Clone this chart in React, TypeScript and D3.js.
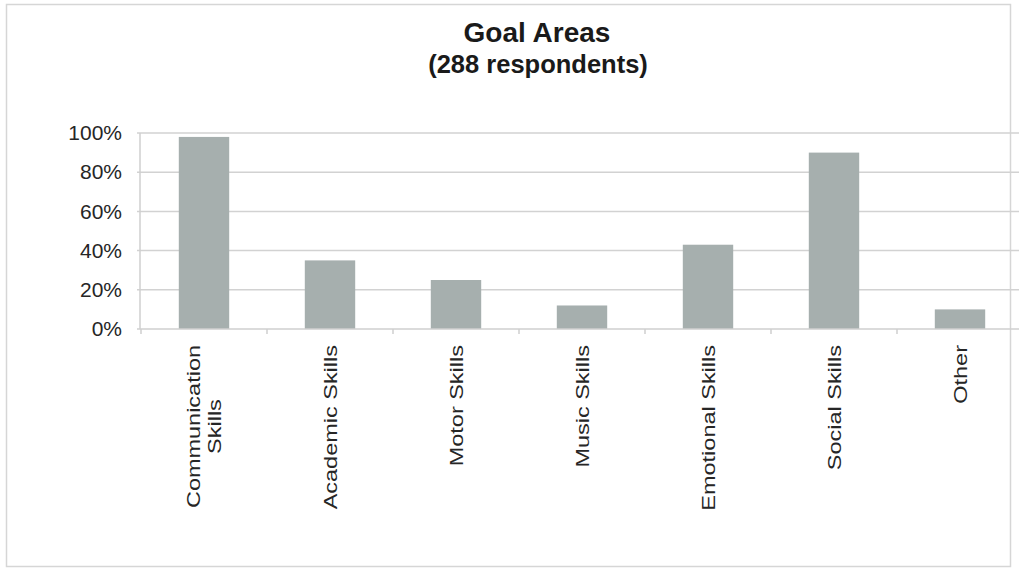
import React, { useEffect, useRef } from 'react';
import * as d3 from 'd3';

const categories = [
  'Communication Skills',
  'Academic Skills',
  'Motor Skills',
  'Music Skills',
  'Emotional Skills',
  'Social Skills',
  'Other',
];
const labelLines = [
  ['Communication', 'Skills'],
  ['Academic Skills'],
  ['Motor Skills'],
  ['Music Skills'],
  ['Emotional Skills'],
  ['Social Skills'],
  ['Other'],
];
const percentages = [98, 35, 25, 12, 43, 90, 10];
const yTicks = [0, 20, 40, 60, 80, 100];
const titleText = 'Goal Areas';
const subtitleText = '(288 respondents)';

const W = 1019;
const H = 571;
const FONT = '"Liberation Sans", Arial, Helvetica, sans-serif';

export default function App() {
  const ref = useRef<SVGSVGElement>(null);

  useEffect(() => {
    const svg = d3.select(ref.current);
    svg.selectAll('*').remove();

    const left = 141;
    const right = 1023;
    const top = 133;
    const bottom = 329;

    // frame
    svg.append('rect')
      .attr('x', 6.5).attr('y', 4.5)
      .attr('width', 1004).attr('height', 562)
      .attr('fill', '#fff')
      .attr('stroke', '#d6d6d6')
      .attr('stroke-width', 1.5);

    const x = d3.scaleBand<string>()
      .domain(categories)
      .range([left, right])
      .paddingInner(0.6)
      .paddingOuter(0.3);
    const y = d3.scaleLinear().domain([0, 100]).range([bottom, top]);

    // gridlines
    svg.append('g').selectAll('line')
      .data(yTicks.filter((t) => t > 0))
      .join('line')
      .attr('x1', left - 4).attr('x2', W)
      .attr('y1', (d) => y(d)).attr('y2', (d) => y(d))
      .attr('stroke', '#d2d2d2').attr('stroke-width', 1.5);

    // y axis
    svg.append('line')
      .attr('x1', left - 1).attr('x2', left - 1)
      .attr('y1', y(100)).attr('y2', y(0))
      .attr('stroke', '#cfcfcf').attr('stroke-width', 1.5);

    // bars
    svg.append('g').selectAll('rect')
      .data(categories)
      .join('rect')
      .attr('x', (d) => x(d)!)
      .attr('width', x.bandwidth())
      .attr('y', (d, i) => y(percentages[i]))
      .attr('height', (d, i) => y(0) - y(percentages[i]))
      .attr('fill', '#a6afae');

    // x axis
    svg.append('line')
      .attr('x1', left - 4).attr('x2', W)
      .attr('y1', y(0)).attr('y2', y(0))
      .attr('stroke', '#cfcfcf').attr('stroke-width', 1.5);
    const step = x.step();
    svg.append('g').selectAll('line')
      .data(d3.range(categories.length + 1))
      .join('line')
      .attr('x1', (i) => left + i * step).attr('x2', (i) => left + i * step)
      .attr('y1', y(0)).attr('y2', y(0) + 5)
      .attr('stroke', '#cfcfcf').attr('stroke-width', 1.5);

    // y labels
    svg.append('g').selectAll('text')
      .data(yTicks)
      .join('text')
      .attr('x', 122)
      .attr('y', (d) => y(d))
      .attr('dy', '0.36em')
      .attr('text-anchor', 'end')
      .attr('font-family', FONT)
      .attr('font-size', 20)
      .attr('fill', '#262626')
      .attr('transform', (d) => `translate(122,${y(d)}) scale(1.05,1) translate(-122,${-y(d)})`)
      .text((d) => `${d}%`);

    // x labels
    const lineGap = 21;
    categories.forEach((c, i) => {
      const cx = x(c)! + x.bandwidth() / 2;
      const g = svg.append('g')
        .attr('transform', `translate(${cx},345) rotate(-90) scale(1.27,1)`);
      const lines = labelLines[i];
      const texts = lines.map((ln, j) =>
        g.append('text')
          .attr('y', (j - (lines.length - 1) / 2) * lineGap)
          .attr('dy', '0.36em')
          .attr('font-family', FONT)
          .attr('font-size', 18.5)
          .attr('fill', '#262626')
          .text(ln)
      );
      if (lines.length === 1) {
        texts[0].attr('x', 0).attr('text-anchor', 'end');
      } else {
        const maxLen = d3.max(texts, (t) => (t.node() as SVGTextElement).getComputedTextLength()) || 0;
        texts.forEach((t) => t.attr('x', -maxLen / 2).attr('text-anchor', 'middle'));
      }
    });

    // titles
    svg.append('text')
      .attr('x', 537).attr('y', 42)
      .attr('text-anchor', 'middle')
      .attr('font-family', FONT)
      .attr('font-size', 28)
      .attr('font-weight', 'bold')
      .attr('fill', '#1a1a1a')
      .text(titleText);
    svg.append('text')
      .attr('x', 538).attr('y', 73)
      .attr('text-anchor', 'middle')
      .attr('font-family', FONT)
      .attr('font-size', 25.5)
      .attr('font-weight', 'bold')
      .attr('fill', '#1a1a1a')
      .text(subtitleText);
  }, []);

  return (
    <svg
      ref={ref}
      width={W}
      height={H}
      style={{ position: 'absolute', left: 0, top: 0, display: 'block', background: '#fff' }}
    />
  );
}
